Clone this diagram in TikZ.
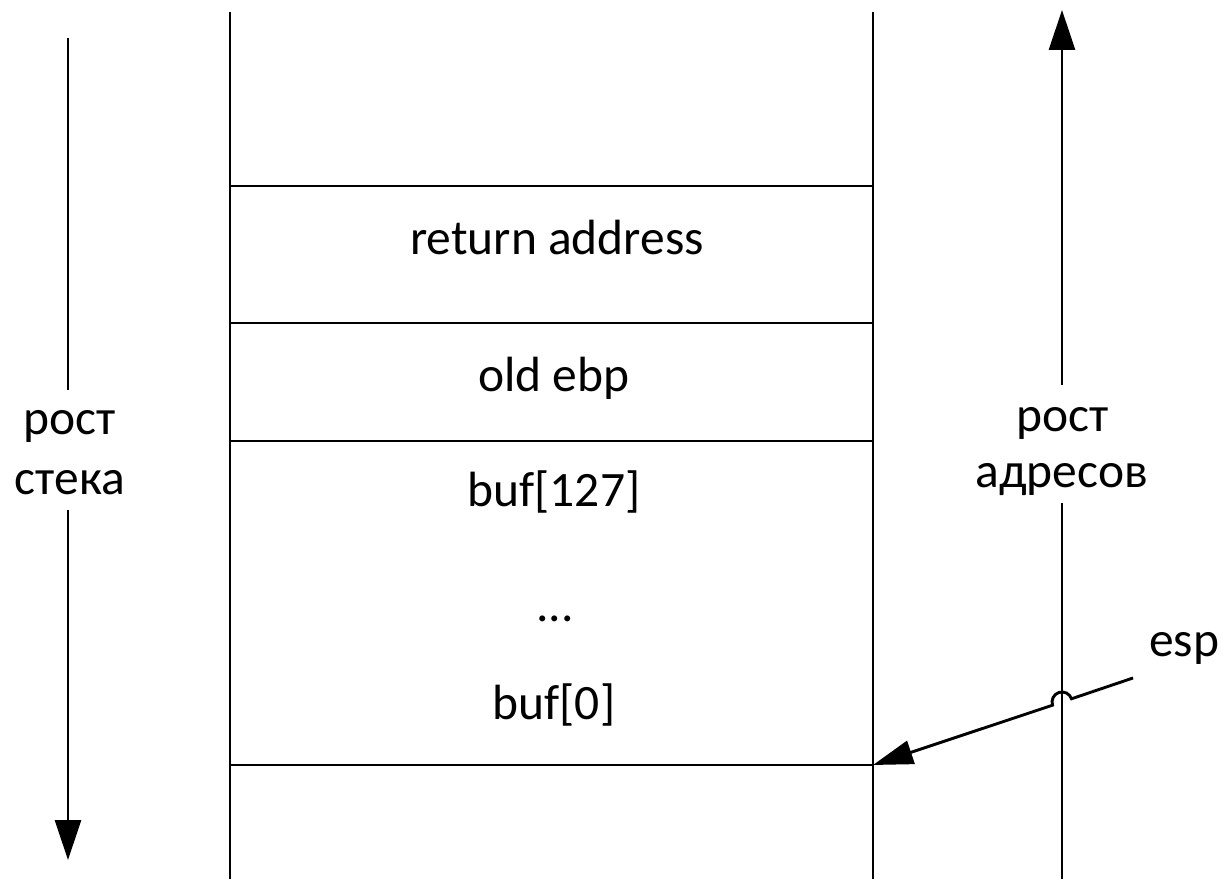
\documentclass[tikz,border=0pt]{standalone}
\usepackage{fontspec}
\setmainfont{Carlito}
\usetikzlibrary{arrows.meta}

\begin{document}
\begin{tikzpicture}[x=1pt,y=1pt,
  line width=2.9pt,
  wall/.style={draw=black},
  growth/.style={draw=black,-{Triangle[length=40pt,width=26pt]}},
  pointer/.style={draw=black,-{Triangle[length=40pt,width=24pt]}},
  cell/.style={inner sep=0pt,anchor=base,font=\fontsize{49.5}{58}\selectfont},
]
\useasboundingbox (0,0) rectangle (1227,879);

% stack column walls
\coordinate (wl-top) at (230,867);
\coordinate (wl-bot) at (230,0);
\coordinate (wr-top) at (873,867);
\coordinate (wr-bot) at (873,0);
\draw[wall] (wl-top) -- (wl-bot);
\draw[wall] (wr-top) -- (wr-bot);

% slot boundaries
\foreach \n/\y in {a/693, b/556, c/438, d/114} {
  \coordinate (s\n-l) at (230,\y);
  \coordinate (s\n-r) at (873,\y);
  \draw[wall] (s\n-l) -- (s\n-r);
}

% slot contents
\node[cell] (ret)    at (557,624) {return address};
\node[cell] (ebp)    at (554,487) {old ebp};
\node[cell] (buf127) at (554,372) {buf[127]};
\node[cell] (dots)   at (555,257) {...};
\node[cell] (buf0)   at (554,159) {buf[0]};

% stack growth (downwards)
\node[cell] (sg1) at (70,444) {рост};
\node[cell] (sg2) at (70,384) {стека};
\coordinate (sg-top) at (68,841);
\coordinate (sg-gap1) at (68,489);
\coordinate (sg-gap2) at (68,369);
\coordinate (sg-tip) at (68,19);
\draw[wall] (sg-top) -- (sg-gap1);
\draw[growth] (sg-gap2) -- (sg-tip);

% address growth (upwards)
\node[cell] (ag1) at (1063,447) {рост};
\node[cell] (ag2) at (1062,391) {адресов};
\coordinate (ag-bot) at (1062,0);
\coordinate (ag-gap1) at (1062,376);
\coordinate (ag-gap2) at (1062,494);
\coordinate (ag-tip) at (1062,869);
\draw[wall] (ag-bot) -- (ag-gap1);
\draw[growth] (ag-gap2) -- (ag-tip);

% stack pointer
\node[cell] (esp) at (1184,222) {esp};
\coordinate (esp-start) at (1133,201);
\coordinate (hop-r) at (1071.5,180.2);
\draw[pointer] (esp-start) -- (hop-r)
  arc[start angle=18.64, end angle=198.64, radius=10pt] -- (sd-r);
\end{tikzpicture}
\end{document}
